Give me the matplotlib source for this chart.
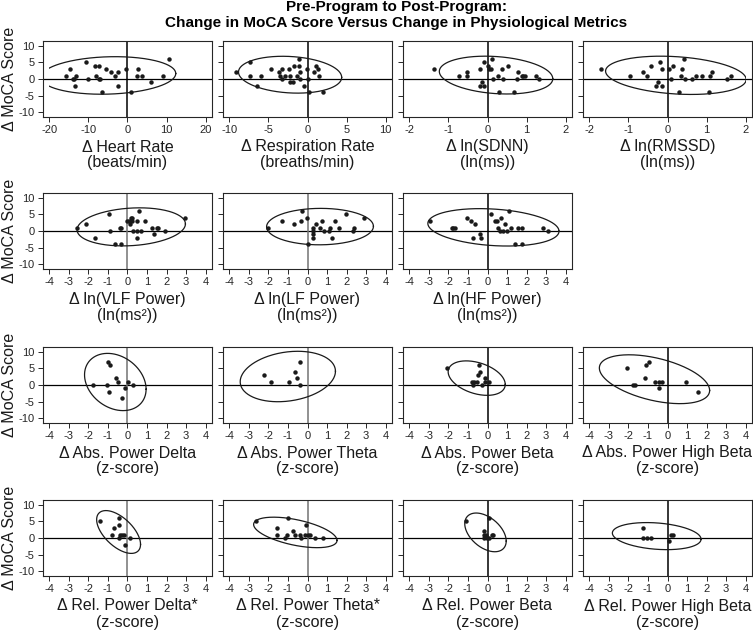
import numpy as np
import matplotlib
matplotlib.use('Agg')
import matplotlib.pyplot as plt
from matplotlib.patches import Rectangle

plt.rcParams['font.family'] = ['Liberation Sans', 'DejaVu Sans']

""" DATA (read off the reference picture) """

# Row 1: heart rate variability metrics
hr_x = [-15.6, -14.7, -14.0, -13.6, -13.2, -13.5, -10.5, -10.05, -8.3, -7.4, -8.0,
        -7.4, -7.0, -6.6, -5.6, -4.2, -3.2, -2.5, -2.4, -0.3, 0.8, 2.6, 2.4, 3.6,
        6.1, 9.0, 10.7]
hr_y = [1, 3, 0, 0, 1, -2, 5, 0, 4, 4, 1, 0, 0, -4, 3, 2, 1, 2, -2, 3, -4, 3, 1, 1,
        -1, 1, 6]

rr_x = [-9.15, -7.4, -7.3, -6.5, -5.9, -4.7, -3.6, -3.5, -3.2, -3.3, -2.85, -2.4,
        -2.25, -2.2, -1.9, -1.7, -1.1, -1.15, -0.9, -1.3, -0.9, -0.5, -0.1, 0.0, 0.2,
        0.85, 1.1, 1.4, 1.5, 2.0]
rr_y = [2, 5, 1, -2, 1, 3, 2, 1, 3, 0, 1, 3, 1, -1, -1, 4, 6, 4, 2, 1, 0, -2, 3, 0,
        -4, 2, 4, 3, 1, -4]

sdnn_x = [-1.37, -0.73, -0.53, -0.52, -0.2, -0.1, 0.0, 0.03, 0.08, 0.12, 0.36, 0.27,
          0.14, 0.4, 0.53, 0.75, 0.79, 0.87, 0.92, 0.96, 1.25, 1.32, -0.19, -0.14,
          -0.08, 0.3, 0.67]
sdnn_y = [3, 1, 2, 1, 3, 5, 4, 3, 3, 6, 3, 1, 0, 0, 4, 0, 2, 1, 1, 1, 1, 0, -2, -1,
          -2, -4, -4]

rmssd_x = [-1.71, -0.96, -0.62, -0.52, -0.41, -0.2, -0.14, 0.04, 0.13, 0.09, 0.41,
           0.37, 0.34, 0.44, 0.62, 0.73, 0.87, 1.09, 1.13, 1.53, 1.63, -0.29, -0.24,
           -0.13, 0.3, 1.07]
rmssd_y = [3, 1, 2, 1, 4, 5, 3, 3, 4, 0, 6, 3, 1, 0, 0, 1, 1, 1, 2, 0, 1, -2, -1, -2,
           -4, -4]

# Row 2: spectral HRV power
vlf_x = [-2.6, -2.1, -1.65, -0.97, -0.92, -0.65, -0.37, -0.31, -0.32, 0.0, 0.09, 0.14,
         0.17, 0.24, 0.22, 0.26, 0.49, 0.58, 0.51, 0.48, 0.7, 0.88, 1.24, 1.5, 1.55,
         1.34, 1.92, 2.93]
vlf_y = [1, 2, -2, 5, 0, -4, 1, 1, -4, 3, 3, 2, 4, 4, 3, 0, 3, 6, 0, -2, 0, 3, 1, 1, 1,
         -1, 0, 4]

lf_x = [-2.03, -1.28, -0.67, -0.31, -0.27, -0.05, 0.05, 0.29, 0.29, 0.29, 0.29, 0.46,
        0.63, 0.73, 0.84, 1.08, 1.16, 1.25, 1.42, 1.62, 1.95, 2.32, 2.37, 2.91]
lf_y = [1, 3, 2, 3, 6, 4, -4, 1, 0, -1, -2, 2, 1, 3, 0, 0, 1, -2, 3, 1, 5, 0, 1, 4]

hf_x = [-2.96, -1.84, -1.74, -1.68, -1.05, -0.86, -0.66, -0.74, -0.37, -0.32, 0.19,
        0.36, 0.47, 1.12, 0.71, 0.56, 0.66, 0.8, 0.9, 1.02, 1.2, 1.56, 1.78, 1.39,
        1.78, 2.83, 3.08]
hf_y = [3, 1, 1, 1, 4, 3, 2, -2, -1, -2, 5, 3, 3, 6, 4, 1, 0, 0, 2, 0, 1, 1, 1, -4, -4,
        1, 0]

# Row 3: absolute EEG power
abs_delta_x = [-1.02, -0.87, -1.74, -1.07, -0.97, -0.61, -0.48, -0.26, -0.12, 0.03, 0.26]
abs_delta_y = [7, 6, 0, 0, -2, 2, 1, -4, -1, 1, 0]

abs_theta_x = [-2.24, -1.89, -0.96, -0.63, -0.56, -0.38, -0.38]
abs_theta_y = [3, 1, 1, 4, 2, 7, 0]

abs_beta_x = [-2.08, -0.42, -0.36, -0.49, -0.15, -0.8, -0.71, -0.56, -0.75, -0.12,
              -0.29, 0.1]
abs_beta_y = [5, 6, 4, 3, 2, 1, 1, 1, 0, 1, 0, 1]

abs_hbeta_x = [-2.08, -1.1, -0.95, -1.17, -1.78, -1.66, -0.64, -0.41, -0.27, -0.41,
               0.93, 1.56]
abs_hbeta_y = [5, 6, 7, 2, 0, 0, 1, 1, 1, -1, 1, -2]

# Row 4: relative EEG power
rel_delta_x = [-1.43, -0.71, -0.8, -0.43, -0.41, -0.36, -0.26, -0.44, -0.2, -0.12, 0.15]
rel_delta_y = [5, 3, 1, 6, 4, 1, 1, 0, 1, -2, 0]

rel_theta_x = [-2.65, -1.55, -1.55, -1.14, -1.04, -0.99, -0.75, -0.63, -0.39, -0.34,
               -0.12, -0.07, 0.0, 0.14, 0.36, 0.77]
rel_theta_y = [5, 3, 1, 0, 1, 6, 2, 1, 1, 0, 1, 4, 1, 1, 0, 0]

rel_beta_x = [-1.08, 0.08, -0.17, -0.19, -0.08, -0.17, -0.02, 0.08, 0.22, 0.3]
rel_beta_y = [5, 6, 2, 1, 1, 0, 0, 0, 1, 1]

rel_hbeta_x = [-1.27, -1.24, -1.07, -0.83, 0.08, 0.2, 0.27]
rel_hbeta_y = [3, 0, 0, 0, -1, 1, 1]

hr_ticks = [-20, -10, 0, 10, 20]
rr_ticks = [-10, -5, 0, 5, 10]
ln_ticks = [-2, -1, 0, 1, 2]
z_ticks = [-4, -3, -2, -1, 0, 1, 2, 3, 4]
moca_ticks = [-10, -5, 0, 5, 10]

# (row, col, x, y, x ticks, label line 1, label line 2)
panels = [
    (0, 0, hr_x, hr_y, hr_ticks, 'Δ Heart Rate', '(beats/min)'),
    (0, 1, rr_x, rr_y, rr_ticks, 'Δ Respiration Rate', '(breaths/min)'),
    (0, 2, sdnn_x, sdnn_y, ln_ticks, 'Δ ln(SDNN)', '(ln(ms))'),
    (0, 3, rmssd_x, rmssd_y, ln_ticks, 'Δ ln(RMSSD)', '(ln(ms))'),
    (1, 0, vlf_x, vlf_y, z_ticks, 'Δ ln(VLF Power)', '(ln(ms²))'),
    (1, 1, lf_x, lf_y, z_ticks, 'Δ ln(LF Power)', '(ln(ms²))'),
    (1, 2, hf_x, hf_y, z_ticks, 'Δ ln(HF Power)', '(ln(ms²))'),
    (2, 0, abs_delta_x, abs_delta_y, z_ticks, 'Δ Abs. Power Delta', '(z-score)'),
    (2, 1, abs_theta_x, abs_theta_y, z_ticks, 'Δ Abs. Power Theta', '(z-score)'),
    (2, 2, abs_beta_x, abs_beta_y, z_ticks, 'Δ Abs. Power Beta', '(z-score)'),
    (2, 3, abs_hbeta_x, abs_hbeta_y, z_ticks, 'Δ Abs. Power High Beta', '(z-score)'),
    (3, 0, rel_delta_x, rel_delta_y, z_ticks, 'Δ Rel. Power Delta*', '(z-score)'),
    (3, 1, rel_theta_x, rel_theta_y, z_ticks, 'Δ Rel. Power Theta*', '(z-score)'),
    (3, 2, rel_beta_x, rel_beta_y, z_ticks, 'Δ Rel. Power Beta', '(z-score)'),
    (3, 3, rel_hbeta_x, rel_hbeta_y, z_ticks, 'Δ Rel. Power High Beta', '(z-score)'),
]


def prediction_ellipse(x, y, level=0.9, npts=300):
    """ 90% prediction ellipse of a bivariate sample """
    x = np.asarray(x, float)
    y = np.asarray(y, float)
    n = len(x)
    cov = np.cov(x, y)
    d2 = n - 2
    # quantile of F(2, d2) has a closed form
    fq = d2 / 2 * ((1 - level) ** (-2 / d2) - 1)
    r = np.sqrt(2 * (n - 1) / (n - 2) * (n + 1) / n * fq)
    L = np.linalg.cholesky(cov)
    t = np.linspace(0, 2 * np.pi, npts)
    pts = np.array([[x.mean()], [y.mean()]]) + r * L @ np.vstack([np.cos(t), np.sin(t)])
    return pts[0], pts[1]


W, H = 753, 632
col_left = [43, 223, 403, 583]
row_top = [41, 193, 347, 500]
aw, ah = 169, 76

fig = plt.figure(figsize=(W / 100, H / 100), dpi=100)

for row, col, x, y, ticks, lab1, lab2 in panels:
    ax = fig.add_axes([col_left[col] / W, 1 - (row_top[row] + ah) / H, aw / W, ah / H])
    lo, hi = ticks[0], ticks[-1]
    pad = 0.04 * (hi - lo)
    ax.set_xlim(lo - pad, hi + pad)
    ax.set_ylim(-11.5, 11.5)

    # reference lines
    vcol = '0.45' if (row > 0 and col < 2) else 'black'
    ax.axhline(0, color='black', lw=0.9, zorder=1)
    ax.axvline(0, color=vcol, lw=1.1, zorder=1)

    # ellipse is clipped to the tick range, like in the original
    ex, ey = prediction_ellipse(x, y)
    line, = ax.plot(ex, ey, color='0.1', lw=0.9, zorder=2)
    clip = Rectangle((lo, -11.5), hi - lo, 23, transform=ax.transData)
    line.set_clip_path(clip)

    ax.plot(x, y, 'o', color='0.1', markersize=3.2, markeredgewidth=0, zorder=3)

    ax.set_xticks(ticks)
    ax.set_xticklabels([str(t) for t in ticks])
    ax.set_yticks(moca_ticks)
    if col == 0:
        ax.set_yticklabels([str(t) for t in moca_ticks])
    else:
        ax.set_yticklabels([])
    ax.tick_params(direction='out', length=3.5, width=0.7, labelsize=8,
                   colors='0.15', pad=2.5)
    for s in ax.spines.values():
        s.set_linewidth(0.8)
        s.set_color('0.15')

    ax.text(0.5, -30 / ah, lab1, transform=ax.transAxes, ha='center', va='center',
            fontsize=11.5, color='0.1')
    ax.text(0.5, -46 / ah, lab2, transform=ax.transAxes, ha='center', va='center',
            fontsize=11.5, color='0.1')

    if col == 0:
        ax.text(-34 / aw, 0.5, 'Δ MoCA Score', transform=ax.transAxes, rotation=90,
                ha='center', va='center', fontsize=11.5, color='0.1')

fig.text(396 / W, 1 - 7 / H, 'Pre-Program to Post-Program:', ha='center', va='center',
         fontsize=11, fontweight='bold')
fig.text(396 / W, 1 - 23 / H, 'Change in MoCA Score Versus Change in Physiological Metrics',
         ha='center', va='center', fontsize=11, fontweight='bold')

fig.savefig('out.png', dpi=100)
